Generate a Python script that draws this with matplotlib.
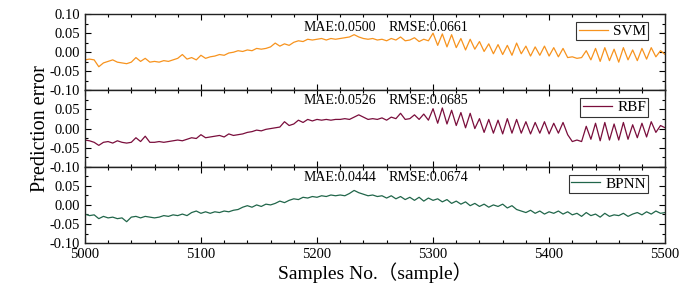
import matplotlib
matplotlib.use("Agg")
import matplotlib.pyplot as plt
from matplotlib.ticker import MultipleLocator

plt.rcParams['font.family'] = ['Liberation Serif', 'Noto Sans CJK SC']
plt.rcParams['axes.unicode_minus'] = False

# sample index, one reading every 4 samples
samples = list(range(5000, 5501, 4))

svm = [-0.020, -0.018, -0.020, -0.038, -0.028, -0.024, -0.020, -0.026, -0.028, -0.030,
       -0.026, -0.014, -0.024, -0.016, -0.026, -0.024, -0.026, -0.022, -0.024, -0.020,
       -0.016, -0.006, -0.018, -0.014, -0.020, -0.008, -0.016, -0.012, -0.010, -0.006,
       -0.008, -0.002, 0.000, 0.004, 0.002, 0.006, 0.004, 0.010, 0.008, 0.010,
       0.014, 0.024, 0.016, 0.022, 0.018, 0.026, 0.030, 0.028, 0.034, 0.032,
       0.034, 0.036, 0.032, 0.036, 0.034, 0.036, 0.038, 0.040, 0.046, 0.040,
       0.036, 0.034, 0.036, 0.032, 0.034, 0.030, 0.036, 0.032, 0.040, 0.030,
       0.032, 0.038, 0.028, 0.034, 0.030, 0.050, 0.018, 0.048, 0.014, 0.046,
       0.012, 0.036, 0.006, 0.034, 0.008, 0.028, 0.002, 0.022, -0.004, 0.020,
       -0.006, 0.018, -0.008, 0.024, -0.004, 0.016, -0.010, 0.014, -0.008, 0.016,
       -0.010, 0.012, -0.012, 0.010, -0.014, -0.012, -0.016, -0.014, 0.004, -0.020,
       0.010, -0.024, 0.012, -0.022, 0.008, -0.026, 0.012, -0.020, 0.006, -0.022,
       0.010, -0.018, 0.012, -0.012, 0.004, -0.006]

rbf = [-0.030, -0.032, -0.036, -0.044, -0.036, -0.034, -0.038, -0.032, -0.036, -0.038,
       -0.036, -0.024, -0.034, -0.020, -0.036, -0.036, -0.034, -0.036, -0.034, -0.032,
       -0.030, -0.032, -0.028, -0.024, -0.026, -0.016, -0.024, -0.022, -0.020, -0.018,
       -0.022, -0.014, -0.018, -0.016, -0.014, -0.010, -0.008, -0.004, -0.006, -0.002,
       0.000, 0.002, 0.004, 0.018, 0.008, 0.012, 0.022, 0.016, 0.024, 0.020,
       0.024, 0.022, 0.024, 0.022, 0.024, 0.024, 0.026, 0.024, 0.030, 0.036,
       0.030, 0.024, 0.026, 0.024, 0.028, 0.022, 0.030, 0.026, 0.040, 0.024,
       0.026, 0.036, 0.024, 0.038, 0.022, 0.052, 0.014, 0.054, 0.012, 0.048,
       0.008, 0.042, 0.002, 0.040, 0.000, 0.026, -0.010, 0.024, -0.012, 0.022,
       -0.014, 0.026, -0.012, 0.024, -0.012, 0.018, -0.014, 0.016, -0.012, 0.018,
       -0.014, 0.014, -0.012, 0.016, -0.016, -0.034, -0.030, -0.034, 0.006, -0.028,
       0.014, -0.032, 0.016, -0.030, 0.012, -0.030, 0.016, -0.028, 0.010, -0.024,
       0.014, -0.022, 0.018, -0.010, 0.008, 0.002]

bpnn = [-0.024, -0.028, -0.026, -0.036, -0.030, -0.034, -0.032, -0.036, -0.034, -0.044,
        -0.032, -0.030, -0.034, -0.030, -0.032, -0.034, -0.032, -0.028, -0.030, -0.026,
        -0.028, -0.024, -0.028, -0.020, -0.016, -0.022, -0.018, -0.022, -0.018, -0.020,
        -0.016, -0.018, -0.014, -0.012, -0.006, -0.002, -0.006, 0.000, -0.004, 0.002,
        0.000, 0.004, 0.010, 0.006, 0.012, 0.016, 0.014, 0.020, 0.018, 0.022,
        0.020, 0.024, 0.022, 0.026, 0.024, 0.026, 0.024, 0.030, 0.038, 0.032,
        0.028, 0.024, 0.026, 0.022, 0.024, 0.018, 0.024, 0.016, 0.022, 0.014,
        0.020, 0.012, 0.020, 0.010, 0.018, 0.012, 0.016, 0.008, 0.014, 0.004,
        0.010, 0.002, 0.008, -0.002, 0.004, -0.004, 0.002, -0.006, 0.000, -0.004,
        0.002, -0.008, -0.002, -0.012, -0.016, -0.020, -0.014, -0.022, -0.016, -0.024,
        -0.018, -0.022, -0.016, -0.024, -0.018, -0.026, -0.022, -0.030, -0.020, -0.028,
        -0.024, -0.032, -0.022, -0.030, -0.026, -0.028, -0.022, -0.030, -0.024, -0.020,
        -0.026, -0.018, -0.024, -0.016, -0.022, -0.020]

models = ['SVM', 'RBF', 'BPNN']
mae = ['0.0500', '0.0526', '0.0444']
rmse = ['0.0661', '0.0685', '0.0674']
colors = ['#F7931E', '#7A0E3C', '#21664A']
text_y = [0.066, 0.074, 0.071]

fig, axes = plt.subplots(3, 1, sharex=True, figsize=(6.9, 2.87), dpi=100)
fig.subplots_adjust(left=0.123, right=0.964, top=0.951, bottom=0.153, hspace=0)

for i, (ax, y) in enumerate(zip(axes, [svm, rbf, bpnn])):
    ax.plot(samples, y, color=colors[i], lw=0.9, label=models[i])
    ax.set_xlim(5000, 5500)
    ax.set_ylim(-0.1, 0.1)
    ax.set_yticks([-0.1, -0.05, 0, 0.05, 0.1])
    labs = ['-0.10', '-0.05', '0.00', '0.05', '0.10']
    if i > 0:
        labs[-1] = ''
    ax.set_yticklabels(labs)
    ax.yaxis.set_minor_locator(MultipleLocator(0.025))
    ax.xaxis.set_major_locator(MultipleLocator(100))
    ax.xaxis.set_minor_locator(MultipleLocator(20))
    ax.tick_params(which='both', direction='in', top=True, right=True, labelsize=10.5, width=0.8)
    ax.tick_params(which='major', length=4)
    ax.tick_params(which='minor', length=2)
    for s in ax.spines.values():
        s.set_linewidth(1.0)
        s.set_color('#222222')
    ax.text(5188, text_y[i], 'MAE:' + mae[i], fontsize=10, va='center')
    ax.text(5262, text_y[i], 'RMSE:' + rmse[i], fontsize=10, va='center')
    leg = ax.legend(loc='upper right', bbox_to_anchor=(0.971, 0.895), borderaxespad=0,
                    fancybox=False, edgecolor='#333333', framealpha=1, fontsize=11,
                    handlelength=1.9, handletextpad=0.35, borderpad=0.15)
    leg.get_frame().set_linewidth(0.8)

axes[2].set_xlabel('Samples No.（sample）', fontsize=14, labelpad=1)
fig.text(0.058, 0.552, 'Prediction error', rotation=90, fontsize=14.5, ha='center', va='center')

fig.savefig('out.png', dpi=100)
